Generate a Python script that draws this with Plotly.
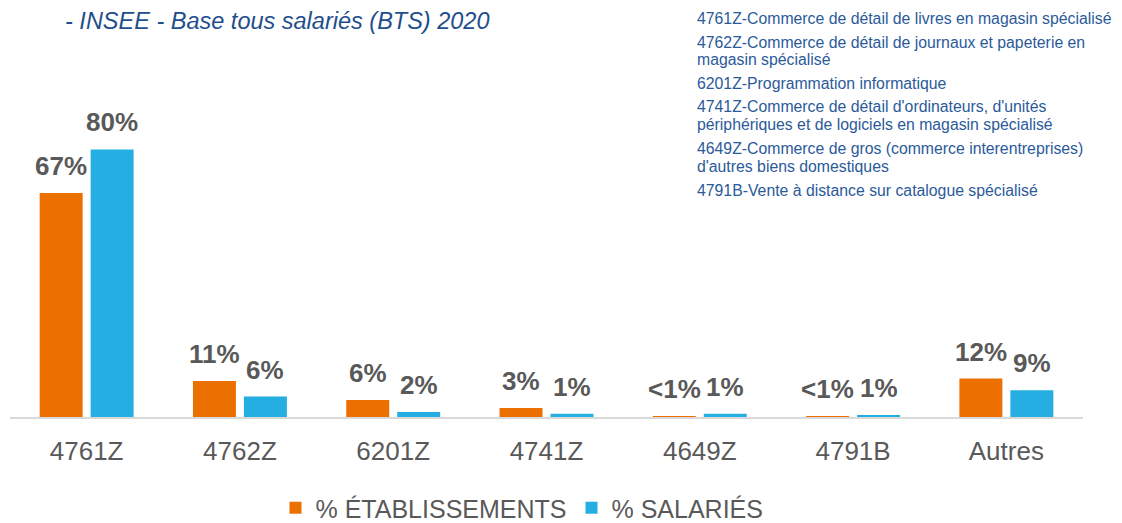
import plotly.graph_objects as go

categories = ["4761Z", "4762Z", "6201Z", "4741Z", "4649Z", "4791B", "Autres"]
etab_values = [67, 10.8, 5.1, 2.7, 0.3, 0.3, 11.5]
sal_values = [80, 6.1, 1.5, 1.0, 1.0, 0.6, 8.0]
etab_labels = ["67%", "11%", "6%", "3%", "<1%", "<1%", "12%"]
sal_labels = ["80%", "6%", "2%", "1%", "1%", "1%", "9%"]
series_names = ["% ÉTABLISSEMENTS", "% SALARIÉS"]

title_text = "- INSEE - Base tous salariés (BTS) 2020"
naf_items = [
    ["4761Z-Commerce de détail de livres en magasin spécialisé"],
    ["4762Z-Commerce de détail de journaux et papeterie en", "magasin spécialisé"],
    ["6201Z-Programmation informatique"],
    ["4741Z-Commerce de détail d'ordinateurs, d'unités",
     "périphériques et de logiciels en magasin spécialisé"],
    ["4649Z-Commerce de gros (commerce interentreprises)", "d'autres biens domestiques"],
    ["4791B-Vente à distance sur catalogue spécialisé"],
]

ORANGE = "#EC7000"
BLUE = "#25AEE1"
GREY = "#595959"
NAVY = "#1F4E8C"
TXTBLUE = "#2B5A9A"
FONT = "Arial, Liberation Sans, sans-serif"

# page is offset by the 8px body margin; figure coords = page coords - 8
OFF = 8
FIG_W, FIG_H = 1114, 515
L, R, T, B = 10, 1083, 100, 417  # plot area in page pixels
PX_PER_PCT = 3.344
YMAX = (B - T) / PX_PER_PCT


def px(x):
    return (x - L) / (R - L)


def py(y):
    return (B - y) / (B - T)


fig = go.Figure()
fig.add_trace(go.Bar(x=categories, y=etab_values, name=series_names[0],
                     marker=dict(color=ORANGE, line=dict(width=0))))
fig.add_trace(go.Bar(x=categories, y=sal_values, name=series_names[1],
                     marker=dict(color=BLUE, line=dict(width=0))))

annotations = []
slot_half = 25.5
for cat, v, t in zip(categories, etab_values, etab_labels):
    annotations.append(dict(x=cat, y=v, xref="x", yref="y", text=f"<b>{t}</b>",
                            showarrow=False, xshift=-slot_half, yshift=10,
                            yanchor="bottom", xanchor="center",
                            font=dict(family=FONT, size=26, color=GREY)))
for cat, v, t in zip(categories, sal_values, sal_labels):
    annotations.append(dict(x=cat, y=v, xref="x", yref="y", text=f"<b>{t}</b>",
                            showarrow=False, xshift=slot_half, yshift=10,
                            yanchor="bottom", xanchor="center",
                            font=dict(family=FONT, size=26, color=GREY)))

# title annotation
annotations.append(dict(x=px(64), y=py(21), xref="paper", yref="paper",
                        text=f"<i>{title_text}</i>", showarrow=False,
                        xanchor="left", yanchor="middle", borderpad=0,
                        font=dict(family=FONT, size=23.5, color=NAVY)))

# NAF description block (one annotation per line)
item_gap = 23.5
line_gap = 18
yc = 18.5
for item in naf_items:
    for j, line in enumerate(item):
        annotations.append(dict(x=px(696), y=py(yc), xref="paper", yref="paper",
                                text=line, showarrow=False, xanchor="left",
                                yanchor="middle", align="left", borderpad=0,
                                font=dict(family=FONT, size=15.8, color=TXTBLUE)))
        yc += line_gap if j < len(item) - 1 else 0
    yc += item_gap

fig.update_layout(
    width=FIG_W, height=FIG_H,
    margin=dict(l=L - OFF, r=FIG_W - (R - OFF), t=T - OFF, b=FIG_H - (B - OFF),
                pad=0, autoexpand=False),
    paper_bgcolor="white", plot_bgcolor="white",
    barmode="group", bargap=0.335, bargroupgap=0.157,
    showlegend=True,
    legend=dict(orientation="h", x=px(522), xanchor="center",
                y=py(508), yanchor="middle",
                font=dict(family=FONT, size=25, color=GREY),
                itemclick=False, traceorder="normal"),
    xaxis=dict(showline=True, linecolor="#D9D9D9", linewidth=2,
               showgrid=False, ticks="", zeroline=False, ticklabelstandoff=10,
               tickfont=dict(family=FONT, size=26, color=GREY)),
    yaxis=dict(range=[0, YMAX], visible=False, showgrid=False, zeroline=False),
    annotations=annotations,
)

fig.write_html("out.html")
